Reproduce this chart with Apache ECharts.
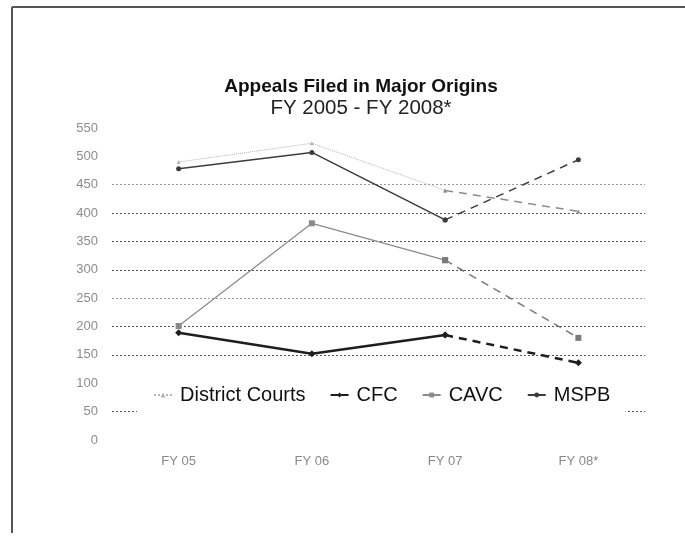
<!DOCTYPE html>
<html>
<head>
<meta charset="utf-8">
<script src="https://cdn.jsdelivr.net/npm/echarts@6/dist/echarts.min.js"></script>
<style>
  html, body { margin: 0; padding: 0; background: #fff; }
  #chart { width: 685px; height: 536px; }
</style>
</head>
<body>
<div id="chart"></div>
<script>
// fiscal years on the x axis
var years = ["FY 05", "FY 06", "FY 07", "FY 08*"];

// appeals filed
var districtCourts = [490, 523, 440, 403];
var cfc = [189, 152, 185, 136];
var cavc = [201, 382, 317, 180];
var mspb = [478, 507, 388, 494];

var yTicks = [0, 50, 100, 150, 200, 250, 300, 350, 400, 450, 500, 550];

// FY 08 is drawn dashed, so every origin gets two pieces
function solidPart (arr) {
  return arr.map(function (v, i) { return i < 3 ? v : null; });
}
function dashPart (arr) {
  return arr.map(function (v, i) { return i >= 2 ? v : null; });
}

var origins = [
  { name: "District Courts", data: districtCourts, color: "#b4b4b4", dashColor: "#8c8c8c", width: 1, type: "dotted", symbol: "triangle", size: 4 },
  { name: "CFC", data: cfc, color: "#1e1e1e", dashColor: "#1e1e1e", width: 2.5, type: "solid", symbol: "diamond", size: 7 },
  { name: "CAVC", data: cavc, color: "#8a8a8a", dashColor: "#7a7a7a", width: 1.2, type: "solid", symbol: "rect", size: 6 },
  { name: "MSPB", data: mspb, color: "#3c3c3c", dashColor: "#3c3c3c", width: 1.5, type: "solid", symbol: "circle", size: 5 }
];

var seriesList = [];
origins.forEach(function (o) {
  seriesList.push({
    name: o.name,
    type: "line",
    data: solidPart(o.data),
    symbol: o.symbol,
    symbolSize: o.size,
    itemStyle: { color: o.color },
    lineStyle: { color: o.color, width: o.width, type: o.type },
    animation: false
  });
  seriesList.push({
    name: o.name,
    type: "line",
    data: dashPart(o.data),
    symbol: o.symbol,
    symbolSize: o.size,
    itemStyle: { color: o.dashColor },
    lineStyle: { color: o.dashColor, width: Math.max(o.width, 1.5), type: [8, 6] },
    animation: false
  });
});

// some rules don't show in the picture (hidden behind legend or faded)
var gridColors = yTicks.map(function (t) {
  if (t === 0 || t === 100 || t >= 500) return "rgba(0,0,0,0)";
  if (t === 450 || t === 250) return "#9a9a9a";
  return "#555";
});

var myChart = echarts.init(document.getElementById("chart"));
var option = {
  backgroundColor: "#fff",
  animation: false,
  title: {
    text: "Appeals Filed in Major Origins",
    subtext: "FY 2005 - FY 2008*",
    left: 356,
    textAlign: "center",
    top: 72,
    itemGap: 2,
    textStyle: { fontFamily: "Liberation Sans", fontSize: 19, fontWeight: "bold", color: "#111" },
    subtextStyle: { fontFamily: "Liberation Sans", fontSize: 20.5, color: "#222" }
  },
  legend: {
    left: 137,
    top: 372,
    padding: [13, 15, 22, 16],
    itemGap: 24,
    itemWidth: 18,
    itemHeight: 6,
    backgroundColor: "#fff",
    textStyle: { fontFamily: "Liberation Sans", fontSize: 20, color: "#111", padding: [0, 0, 0, 3] },
    data: origins.map(function (o) { return o.name; })
  },
  grid: {
    left: 112,
    right: 40,
    top: 128,
    bottom: 96
  },
  xAxis: {
    type: "category",
    data: years,
    boundaryGap: true,
    axisLine: { show: false },
    axisTick: { show: false },
    axisLabel: { color: "#888", fontSize: 13, margin: 15, fontFamily: "Liberation Sans" },
    splitLine: { show: false }
  },
  yAxis: {
    type: "value",
    min: 0,
    max: 550,
    interval: 50,
    axisLine: { show: false },
    axisTick: { show: false },
    axisLabel: { color: "#8c8c8c", fontSize: 13, margin: 14, fontFamily: "Liberation Sans" },
    splitLine: {
      show: true,
      lineStyle: { color: gridColors, type: [2, 2], width: 1 }
    }
  },
  graphic: [
    { type: "line", shape: { x1: 12, y1: 7, x2: 685, y2: 7 }, style: { stroke: "#555", lineWidth: 2 } },
    { type: "line", shape: { x1: 12, y1: 7, x2: 12, y2: 533 }, style: { stroke: "#555", lineWidth: 2 } }
  ],
  series: seriesList
};
myChart.setOption(option, true);
</script>
</body>
</html>
